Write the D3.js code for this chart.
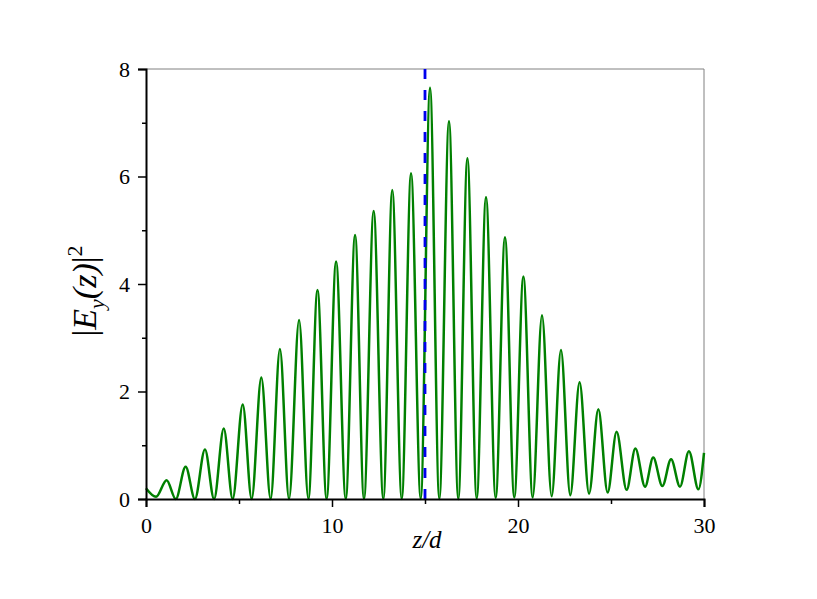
<!DOCTYPE html>
<html><head><meta charset="utf-8">
<script src="https://cdn.jsdelivr.net/npm/d3@7"></script>
<style>body{margin:0;background:#fff}svg{display:block}text{font-family:"Liberation Serif","DejaVu Serif",serif;fill:#000}</style>
</head><body><svg id="c" width="817" height="599"></svg>
<script>
// extrema of |E_y(z)|^2 (z, value)
const zPts = [0, 0.54, 1.11, 1.6, 2.13, 2.63, 3.17, 3.66, 4.18, 4.66, 5.2, 5.68, 6.2, 6.7, 7.2, 7.69, 8.23, 8.73, 9.22, 9.71, 10.22, 10.74, 11.24, 11.72, 12.24, 12.76, 13.24, 13.75, 14.25, 14.77, 15.27, 15.77, 16.29, 16.79, 17.28, 17.78, 18.28, 18.8, 19.3, 19.8, 20.29, 20.79, 21.29, 21.81, 22.31, 22.81, 23.31, 23.82, 24.32, 24.82, 25.3, 25.84, 26.31, 26.83, 27.27, 27.76, 28.23, 28.71, 29.19, 29.7, 30];
const ePts = [0.2, 0.04, 0.35, 0, 0.6, 0, 0.92, 0, 1.31, 0, 1.76, 0, 2.26, 0, 2.79, 0, 3.33, 0, 3.89, 0, 4.42, 0, 4.91, 0, 5.36, 0, 5.75, 0, 6.06, 0, 7.65, 0, 7.03, 0, 6.34, 0.01, 5.62, 0.02, 4.87, 0.03, 4.14, 0.03, 3.42, 0.05, 2.77, 0.07, 2.17, 0.1, 1.67, 0.12, 1.25, 0.17, 0.94, 0.23, 0.77, 0.24, 0.74, 0.23, 0.89, 0.18, 0.86];
const markerZ = 15;
const xMajor = [0, 10, 20, 30];
const xMinor = [5, 15, 25];
const yMajor = [0, 2, 4, 6, 8];
const yMinor = [1, 3, 5, 7];

const svg = d3.select("#c");
const L = 146, R = 704, T = 69, B = 499;
const x = d3.scaleLinear().domain([0, 30]).range([L, R]);
const y = d3.scaleLinear().domain([0, 8]).range([B, T]);

// frame top/right
svg.append("line").attr("x1", L).attr("x2", R).attr("y1", T).attr("y2", T).attr("stroke", "#808080").attr("stroke-width", 1);
svg.append("line").attr("x1", R).attr("x2", R).attr("y1", T).attr("y2", B).attr("stroke", "#808080").attr("stroke-width", 1);

// curve
const data = zPts.map((z, i) => [z, ePts[i]]);
const line = d3.line().x(d => x(d[0])).y(d => y(d[1])).curve(d3.curveMonotoneX);
svg.append("path").datum(data).attr("d", line).attr("fill", "none").attr("stroke", "#008000").attr("stroke-width", 2.5);

// marker
svg.append("line").attr("x1", x(markerZ)).attr("x2", x(markerZ)).attr("y1", y(8)).attr("y2", y(0))
  .attr("stroke", "#0000ee").attr("stroke-width", 2.8).attr("stroke-dasharray", "10,11");

// axes
const xAxis = d3.axisBottom(x).tickValues(xMajor).tickSize(8).tickPadding(10).tickFormat(d3.format("d"));
const gx = svg.append("g").attr("transform", `translate(0,${B})`).call(xAxis);
const xAxisMin = d3.axisBottom(x).tickValues(xMinor).tickSize(5).tickFormat("");
const gx2 = svg.append("g").attr("transform", `translate(0,${B})`).call(xAxisMin);
const yAxis = d3.axisLeft(y).tickValues(yMajor).tickSize(8).tickPadding(8).tickFormat(d3.format("d"));
const gy = svg.append("g").attr("transform", `translate(${L},0)`).call(yAxis);
const yAxisMin = d3.axisLeft(y).tickValues(yMinor).tickSize(4).tickFormat("");
const gy2 = svg.append("g").attr("transform", `translate(${L},0)`).call(yAxisMin);
[gx, gx2, gy, gy2].forEach(g => {
  g.select(".domain").attr("stroke", "#000").attr("stroke-width", 2);
  g.selectAll(".tick line").attr("stroke", "#000").attr("stroke-width", 1.5);
  g.selectAll(".tick text").attr("font-family", "Liberation Serif").attr("font-size", 22).attr("fill", "#000");
});
gx2.select(".domain").remove(); gy2.select(".domain").remove();

// labels
svg.append("text").attr("x", (L + R) / 2 + 2).attr("y", 548).attr("text-anchor", "middle")
  .attr("font-size", 25).attr("font-style", "italic").text("z/d");

const yl = svg.append("text").attr("transform", `translate(96,291) rotate(-90)`)
  .attr("text-anchor", "middle").attr("font-size", 34);
yl.append("tspan").text("|");
yl.append("tspan").attr("font-style", "italic").text("E");
yl.append("tspan").attr("font-style", "italic").attr("font-size", 22).attr("dy", 8).text("y");
yl.append("tspan").attr("font-style", "italic").attr("dy", -8).text("(z)");
yl.append("tspan").text("|");
yl.append("tspan").attr("font-size", 22).attr("dy", -14).text("2");
</script></body></html>
